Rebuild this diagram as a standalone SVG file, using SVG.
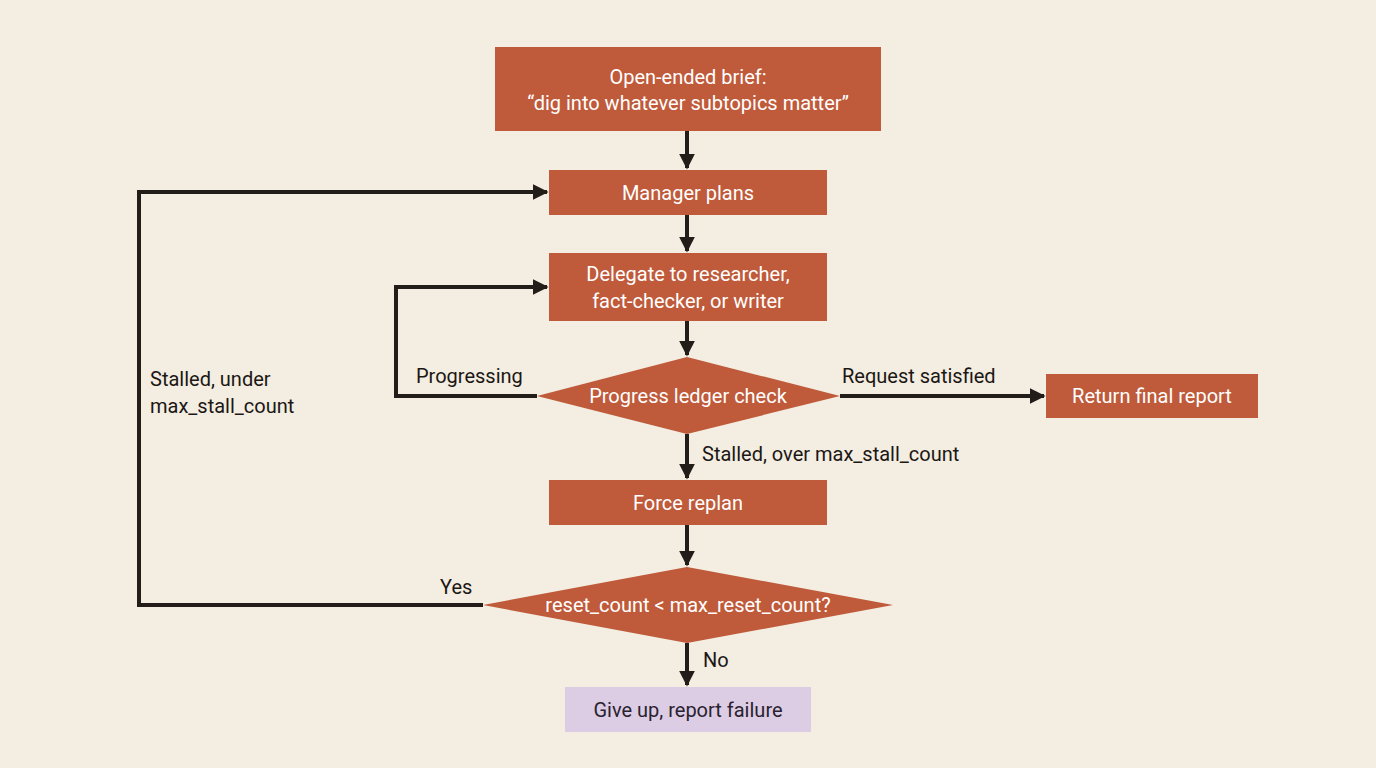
<svg xmlns="http://www.w3.org/2000/svg" width="1376" height="768" viewBox="0 0 1376 768">
<defs>
<marker id="ah" viewBox="0 0 10 10" refX="9" refY="5" markerWidth="4" markerHeight="4" markerUnits="strokeWidth" orient="auto"><path d="M0,0 L10,5 L0,10 z" fill="#231d19"/></marker>
<style>
.n{fill:#bf5a3a}
.t{font-family:Roboto,"Liberation Sans",sans-serif;font-size:20px;fill:#fff;text-anchor:middle}
.l{font-family:Roboto,"Liberation Sans",sans-serif;font-size:20px;fill:#1c1714}
.c{fill:none;stroke:#231d19;stroke-width:4;marker-end:url(#ah)}
</style>
</defs>
<rect width="1376" height="768" fill="#f3ede2"/>
<g id="connectors">
<path class="c" d="M687,131 V168"/>
<path class="c" d="M687,215 V251"/>
<path class="c" d="M687,321 V355"/>
<path class="c" d="M537,396 H396 V287 H547"/>
<path class="c" d="M840,396 H1044"/>
<path class="c" d="M687,434 V478"/>
<path class="c" d="M687,525 V565"/>
<path class="c" d="M483,605 H139 V192 H547"/>
<path class="c" d="M687,643 V685"/>
<text class="l" x="416" y="383">Progressing</text>
<text class="l" x="842" y="383">Request satisfied</text>
<text class="l" x="702" y="461">Stalled, over max_stall_count</text>
<text class="l" x="150" y="386">Stalled, under</text>
<text class="l" x="150" y="413">max_stall_count</text>
<text class="l" x="440" y="594">Yes</text>
<text class="l" x="703" y="667">No</text>
</g>
<g id="brief"><rect class="n" x="495" y="47" width="386" height="84"/><text class="t" x="688" y="84">Open-ended brief:</text><text class="t" x="688" y="110">“dig into whatever subtopics matter”</text></g>
<g id="manager"><rect class="n" x="549" y="170" width="278" height="45"/><text class="t" x="688" y="200">Manager plans</text></g>
<g id="delegate"><rect class="n" x="549" y="253" width="278" height="68"/><text class="t" x="688" y="281">Delegate to researcher,</text><text class="t" x="688" y="308">fact-checker, or writer</text></g>
<g id="ledger"><polygon class="n" points="537,396 687,357 840,396 687,434"/><text class="t" x="688" y="403">Progress ledger check</text></g>
<g id="final"><rect class="n" x="1046" y="374" width="212" height="44"/><text class="t" x="1152" y="403">Return final report</text></g>
<g id="replan"><rect class="n" x="549" y="480" width="278" height="45"/><text class="t" x="688" y="510">Force replan</text></g>
<g id="reset"><polygon class="n" points="483,605 687,567 893,605 687,643"/><text class="t" x="688" y="612">reset_count &lt; max_reset_count?</text></g>
<g id="giveup"><rect x="565" y="687" width="246" height="45" fill="#dccde4"/><text class="t" x="688" y="717" style="fill:#2a2230">Give up, report failure</text></g>
</svg>
